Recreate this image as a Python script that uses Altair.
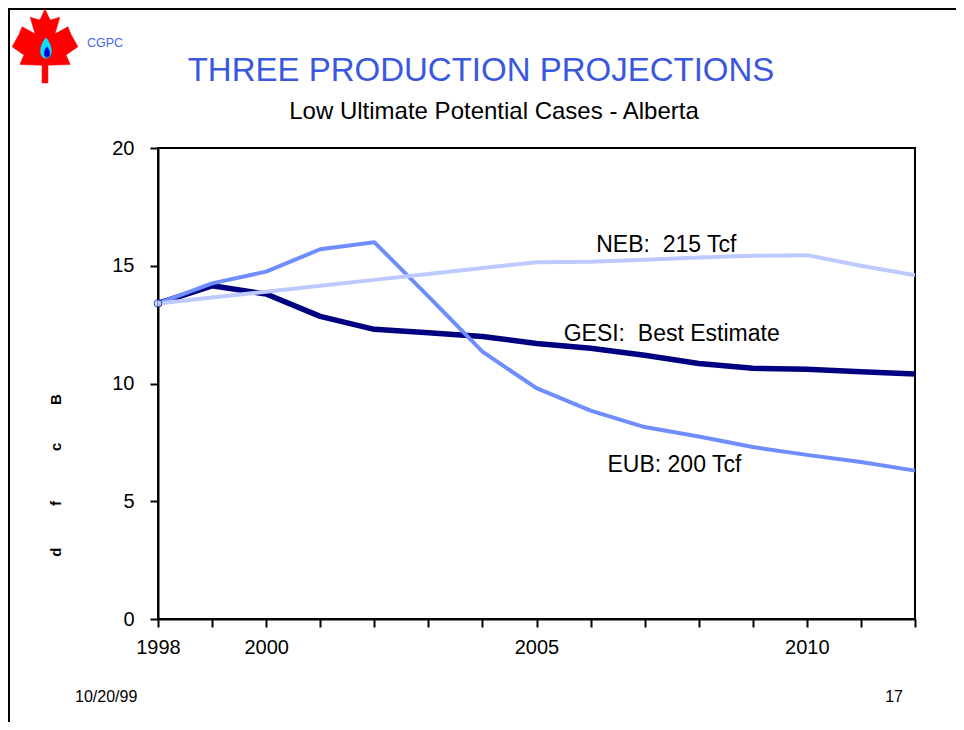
import altair as alt
import pandas as pd

years = list(range(1998, 2013))
gesi = [13.4, 14.15, 13.8, 12.85, 12.3, 12.15, 12.0, 11.7, 11.5, 11.2, 10.85, 10.65, 10.6, 10.5, 10.4]
eub = [13.4, 14.25, 14.75, 15.7, 16.0, 13.7, 11.35, 9.8, 8.85, 8.15, 7.75, 7.3, 6.97, 6.67, 6.3]
neb = [13.4, 13.65, 13.9, 14.15, 14.4, 14.65, 14.9, 15.15, 15.17, 15.25, 15.35, 15.42, 15.45, 15.0, 14.6]

series_names = ["GESI", "EUB", "NEB"]
series_colors = ["#000080", "#6f8dff", "#bccaff"]
series_widths = [5.5, 4, 4]

NB = "\u00a0"
label_texts = ["NEB:" + NB + NB + "215 Tcf", "GESI:" + NB + NB + "Best Estimate", "EUB: 200 Tcf"]
label_x = [2007.4, 2007.5, 2007.55]
label_y = [15.6, 11.8, 6.25]

x_tick_values = years
x_label_values = [1998, 2000, 2005, 2010]
y_tick_values = [0, 5, 10, 15, 20]

FONT = "Liberation Sans"

rows = []
for name, vals in zip(series_names, [gesi, eub, neb]):
    for yr, v in zip(years, vals):
        rows.append({"year": yr, "value": v, "series": name})
df = pd.DataFrame(rows)

xscale = alt.Scale(domain=[1998, 2012], nice=False, zero=False)
yscale = alt.Scale(domain=[0, 20], nice=False)

label_expr = "indexof([1998,2000,2005,2010], datum.value) >= 0 ? datum.value : ''"

base_x = alt.X("year:Q", scale=xscale,
               axis=alt.Axis(values=x_tick_values, labelExpr=label_expr, title=None,
                             format="d", grid=False, domainColor="black", domainWidth=2,
                             tickColor="black", tickWidth=2, tickSize=8,
                             labelFont=FONT, labelFontSize=20, labelColor="black",
                             labelPadding=10, labelFlush=False))
ytitle = "d" + NB * 10 + "f" + NB * 12 + "c" + NB * 9 + "B"
base_y = alt.Y("value:Q", scale=yscale,
               axis=alt.Axis(values=y_tick_values, title=ytitle, grid=False,
                             domainColor="black", domainWidth=2, tickColor="black",
                             tickWidth=2, tickSize=8, labelFont=FONT, labelFontSize=20,
                             labelColor="black", labelPadding=16,
                             titleFont=FONT, titleFontSize=15, titleFontWeight="bold",
                             titleColor="black", titleX=-103, titleY=327, titleAngle=270,
                             titleAlign="center", titleBaseline="middle"))

layers = []
for name, color, w in zip(series_names, series_colors, series_widths):
    layers.append(
        alt.Chart(df).transform_filter(alt.datum.series == name)
        .mark_line(color=color, strokeWidth=w, strokeJoin="round", strokeCap="butt")
        .encode(x=base_x, y=base_y)
    )

start = alt.Chart(df).transform_filter(
    (alt.datum.series == "GESI") & (alt.datum.year == 1998)
).mark_point(shape="circle", filled=True, fill="#bccaff", stroke="#000080",
             strokeWidth=1, size=60).encode(x=base_x, y=base_y)

lab_df = pd.DataFrame({"x": label_x, "y": label_y, "t": label_texts})
labels = alt.Chart(lab_df).mark_text(font=FONT, fontSize=23, color="black",
                                     align="center", baseline="alphabetic").encode(
    x=alt.X("x:Q", scale=xscale), y=alt.Y("y:Q", scale=yscale), text="t:N")

def txt(text, x, y, size, color="black", align="center", weight="normal"):
    return alt.Chart(pd.DataFrame({"t": [text]})).mark_text(
        font=FONT, fontSize=size, color=color, align=align, baseline="alphabetic",
        fontWeight=weight).encode(x=alt.value(x), y=alt.value(y), text="t:N")

title = txt("THREE PRODUCTION PROJECTIONS", 323, -67, 33, color="#3a57e0")
subtitle = txt("Low Ultimate Potential Cases - Alberta", 336, -29, 24)
cgpc = txt("CGPC", -71, -101, 12.5, color="#4466ee", align="left")
date = txt("10/20/99", -83, 554, 16, align="left")
page = txt("17", 745, 554, 16, align="right")

leaf_path = ("M0,-1 L0.14,-0.7 L0.4,-0.78 L0.27,-0.33 L0.62,-0.52 L0.7,-0.32 "
             "L0.89,0.02 L0.57,0.24 L0.68,0.5 L0.08,0.52 L0.08,1 L-0.08,1 L-0.08,0.52 "
             "L-0.68,0.5 L-0.57,0.24 L-0.89,0.02 L-0.7,-0.32 L-0.62,-0.52 L-0.27,-0.33 "
             "L-0.4,-0.78 L-0.14,-0.7 Z")
drop_path = "M0,-1 C0.7,-0.2 0.7,1 0,1 C-0.7,1 -0.7,-0.2 0,-1 Z"

def sym(path, x, y, size, color):
    return alt.Chart(pd.DataFrame({"a": [0]})).mark_point(
        shape=path, filled=True, fill=color, stroke=color, strokeWidth=0.5, opacity=1,
        size=size).encode(x=alt.value(x), y=alt.value(y))

leaf = sym(leaf_path, -113, -102, 5476, "#ff0000")
flame = sym(drop_path, -112, -100, 420, "#00e5ff")
flame2 = sym(drop_path, -111, -96, 110, "#0000d0")

frame_top = alt.Chart(pd.DataFrame({"a": [0]})).mark_rule(color="black", strokeWidth=2).encode(
    x=alt.value(-150), x2=alt.value(798), y=alt.value(-139))
frame_left = alt.Chart(pd.DataFrame({"a": [0]})).mark_rule(color="black", strokeWidth=2).encode(
    x=alt.value(-149), y=alt.value(-140), y2=alt.value(574))

chart = alt.layer(
    frame_top, frame_left, leaf, flame, flame2, cgpc, title, subtitle,
    *layers, start, labels, date, page
).properties(
    width=757, height=471,
    autosize=alt.AutoSizeParams(type="none"),
    padding={"left": 150, "top": 140, "right": 41, "bottom": 103},
    background="white",
).configure_view(stroke="black", strokeWidth=2)

chart.save("out.html", embed_options={"renderer": "svg", "actions": False})
